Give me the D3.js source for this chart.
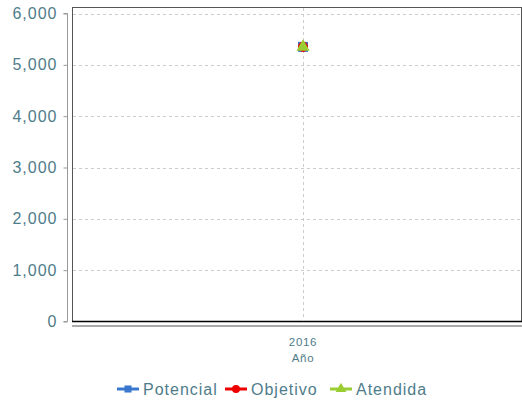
<!DOCTYPE html>
<html>
<head>
<meta charset="utf-8">
<script src="https://cdn.jsdelivr.net/npm/d3@7"></script>
<style>
  body { margin: 0; background: #fff; }
  svg { display: block; font-family: "Liberation Sans", Arial, sans-serif; }
</style>
</head>
<body>
<svg width="522" height="400"></svg>
<script>
// chart data
let years = ["2016"];
let potencial = [5350];
let objetivo = [5350];
let atendida = [5350];
let yTicks = [0, 1000, 2000, 3000, 4000, 5000, 6000];

let seriesNames = ["Potencial", "Objetivo", "Atendida"];
let seriesColors = ["#3a78d0", "#ee0000", "#9acd32"];
let seriesShapes = [d3.symbolSquare, d3.symbolCircle, d3.symbolTriangle];
let seriesValues = [potencial, objetivo, atendida];

let svg = d3.select("svg");
let textColor = "#4f7c8a";

let plotLeft = 72, plotRight = 521, plotTop = 7, plotBottom = 321;

let y = d3.scaleLinear()
  .domain([0, 6000])
  .range([321.5, 13.5]);

let x = d3.scalePoint()
  .domain(years)
  .range([303, 303]);

// frame
svg.append("rect")
  .attr("x", plotLeft + 0.5)
  .attr("y", plotTop + 0.5)
  .attr("width", plotRight - plotLeft)
  .attr("height", plotBottom - plotTop)
  .attr("fill", "none")
  .attr("stroke", "#555")
  .attr("stroke-width", 1);
svg.append("line")
  .attr("x1", plotLeft).attr("x2", plotRight + 1)
  .attr("y1", plotBottom + 0.5).attr("y2", plotBottom + 0.5)
  .attr("stroke", "#000").attr("stroke-width", 1.5);

// grid
let grid = svg.append("g");
grid.selectAll("line.h")
  .data(yTicks.filter(d => d > 0))
  .enter().append("line")
  .attr("x1", plotLeft + 1).attr("x2", plotRight)
  .attr("y1", d => Math.round(y(d)) + 0.5)
  .attr("y2", d => Math.round(y(d)) + 0.5)
  .attr("stroke", "#ccc")
  .attr("stroke-dasharray", "3,3");
grid.selectAll("line.v")
  .data(years)
  .enter().append("line")
  .attr("x1", d => x(d) + 0.5).attr("x2", d => x(d) + 0.5)
  .attr("y1", plotTop + 1).attr("y2", plotBottom)
  .attr("stroke", "#ccc")
  .attr("stroke-dasharray", "3,3");

// y axis
let yAxis = d3.axisLeft(y)
  .tickValues(yTicks)
  .tickFormat(d3.format(","))
  .tickSize(4)
  .tickPadding(6);
let yGroup = svg.append("g")
  .attr("transform", "translate(67.5,0)")
  .call(yAxis);
yGroup.select(".domain").attr("stroke", "#999").attr("d", "M-4,13.5H0V321.5H-4");
yGroup.selectAll(".tick line").attr("stroke", "#999");
yGroup.selectAll(".tick text")
  .attr("fill", textColor)
  .style("font-size", "16px")
  .style("letter-spacing", "1px");

// x axis
let xGroup = svg.append("g")
  .attr("transform", "translate(0,326)");
xGroup.append("line")
  .attr("x1", plotLeft).attr("x2", plotRight + 1)
  .attr("y1", 0).attr("y2", 0)
  .attr("stroke", "#aaa").attr("stroke-width", 2);
xGroup.selectAll("text")
  .data(years)
  .enter().append("text")
  .attr("x", d => x(d))
  .attr("y", 20)
  .attr("text-anchor", "middle")
  .attr("fill", textColor)
  .style("font-size", "11.5px")
  .style("letter-spacing", "0.7px")
  .text(d => d);
svg.append("text")
  .attr("x", 303)
  .attr("y", 362)
  .attr("text-anchor", "middle")
  .attr("fill", textColor)
  .style("font-size", "11.5px")
  .style("letter-spacing", "0.7px")
  .text("Año");

// markers
seriesValues.forEach(function(vals, s) {
  svg.append("g").selectAll("path")
    .data(vals)
    .enter().append("path")
    .attr("transform", (d, i) => "translate(" + x(years[i]) + "," + y(d) + ")")
    .attr("d", d3.symbol().type(seriesShapes[s]).size(s === 0 ? 100 : s === 1 ? 80 : 75))
    .attr("fill", seriesColors[s]);
});

// legend
let legendX = [117, 225, 330];
let legend = svg.append("g");
seriesNames.forEach(function(name, s) {
  let g = legend.append("g").attr("transform", "translate(" + legendX[s] + ",389)");
  g.append("line")
    .attr("x1", 0).attr("x2", 22)
    .attr("y1", 0).attr("y2", 0)
    .attr("stroke", seriesColors[s]).attr("stroke-width", 3);
  g.append("path")
    .attr("transform", "translate(11,0)")
    .attr("d", d3.symbol().type(seriesShapes[s]).size(50))
    .attr("fill", seriesColors[s]);
  g.append("text")
    .attr("x", 26)
    .attr("y", 6)
    .attr("fill", textColor)
    .style("font-size", "16px")
    .style("letter-spacing", "1px")
    .text(name);
});
</script>
</body>
</html>
